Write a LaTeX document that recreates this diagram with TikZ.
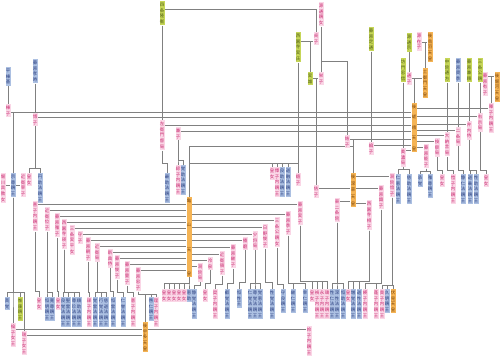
\documentclass[tikz,border=0pt]{standalone}
\usepackage{fontspec}
\newfontfamily\cjk{Noto Sans CJK JP}
\definecolor{empfill}{RGB}{245,180,85}
\definecolor{emptext}{RGB}{125,70,10}
\definecolor{manfill}{RGB}{172,192,226}
\definecolor{mantext}{RGB}{40,60,125}
\definecolor{womfill}{RGB}{250,214,230}
\definecolor{womtext}{RGB}{200,40,110}
\definecolor{othfill}{RGB}{198,214,88}
\definecolor{othtext}{RGB}{80,95,20}
\definecolor{linegray}{RGB}{128,128,128}
\pgfdeclarelayer{bg}
\pgfsetlayers{bg,main}

\newcommand\cjkstrut{\vrule height 4.6pt depth 1.3pt width 0pt}
\newcommand\onechar[1]{\hbox to 4.4pt{\hss\cjkstrut#1\hss}}
\ExplSyntaxOn
\NewDocumentCommand\vt{O{0pt}m}
 {
  \tl_set:Nx \l_tmpb_tl {#2}
  \vbox
   {
    \offinterlineskip
    \bool_set_true:N \l_tmpa_bool
    \tl_map_inline:Nn \l_tmpb_tl
     {
      \bool_if:NF \l_tmpa_bool { \kern #1 }
      \bool_set_false:N \l_tmpa_bool
      \onechar{##1}
     }
   }
 }
\ExplSyntaxOff

% couple line, child hanging from a line, children under a parent
\newcommand\marry[3]{\draw[link] (#1.east |- 0,#3) -- (#2.west |- 0,#3);}
\newcommand\hangkid[2]{\draw[link] (#1.north |- 0,#2) -- (#1.north);}
\newcommand\brood[3]{\foreach \k in {#3}{\draw[link] (#1.south) -- (#1.south |- 0,#2) -| (\k.north);}}

\tikzset{
  person/.style={anchor=north, inner sep=0.3pt, font=\cjk\fontsize{4.4}{5.9}\selectfont},
  emp/.style={person, fill=empfill, text=emptext},
  man/.style={person, fill=manfill, text=mantext},
  wom/.style={person, fill=womfill, text=womtext},
  oth/.style={person, fill=othfill, text=othtext},
  link/.style={draw=linegray, line width=0.75pt}
}

\begin{document}
\begin{tikzpicture}[x=1pt,y=-1pt]
\useasboundingbox (0,0) rectangle (500,359);

% ancestors
\node[oth] (takahira) at (162,1) {\vt{四条隆衡}};
\node[wom] (sadako) at (321,2) {\vt{源通親女}};
\node[oth] (saneuji) at (298,32) {\vt{西園寺実氏}};
\node[wom] (teishi) at (316,32) {\vt{貞子}};
\node[oth] (saneo) at (310,72) {\vt{実雄}};
\node[wom] (eishi) at (321,72) {\vt{栄子}};
\node[oth] (sadamichi) at (371,27) {\vt{藤原定通}};
\node[oth] (tadanobu) at (403,58) {\vt{坊門忠信}};
\node[oth] (michimune) at (409,33) {\vt{源通宗}};
\node[wom] (zaishi) at (419,32) {\vt{源在子}};
\node[emp] (gotoba) at (430,32) {\vt{後鳥羽天皇}};
\node[wom] (tsushi) at (409,72) {\vt{通子}};
\node[emp] (tsuchimikado) at (425,68) {\vt{土御門天皇}};
\node[oth] (michikata) at (447,58) {\vt{中院通方}};
\node[man] (sukesue) at (458,58) {\vt{藤原資季}};
\node[oth] (kanenori) at (469,58) {\vt{藤原兼頼}};
\node[oth] (kinchika) at (480,58) {\vt{三条公親}};
\node[wom] (yushi) at (485,72) {\vt{藤原有子}};
\node[emp] (gohorikawa) at (497,72) {\vt{後堀河天皇}};
\node[man] (munemoto) at (8,67) {\vt{平棟基}};
\node[man] (takatoki) at (35,59) {\vt{藤原孝時}};

% Go-Saga and his consorts
\node[emp] (gosaga) at (414,103) {\vt[4.6pt]{後嵯峨天皇}};
\node[wom] (muneko) at (8,104) {\vt{棟子}};
\node[wom] (hiroko) at (35,113) {\vt{博子}};
\node[wom] (saemon) at (162,120) {\vt{左衛門督局}};
\node[wom] (kenshi) at (178,127) {\vt{兼子}};
\node[wom] (kisshi) at (347,135) {\vt{姞子}};
\node[wom] (rinko) at (371,142) {\vt{綸子}};
\node[wom] (mino) at (403,148) {\vt{美濃局}};
\node[wom] (yoshiko) at (426,144) {\vt{藤原能子}};
\node[wom] (azechi) at (437,138) {\vt{按察局}};
\node[wom] (dainagon) at (447,132) {\vt{大納言局}};
\node[wom] (nijo) at (458,127) {\vt{二条局}};
\node[wom] (bennaishi) at (469,121) {\vt{弁内侍}};
\node[wom] (ukyo) at (480,113) {\vt{右京局}};
\node[wom] (kishi) at (491,103) {\vt{暉子内親王}};

% children of Go-Saga
\node[wom] (horikawa) at (3,173) {\vt{堀川具教女}};
\node[man] (munetaka) at (13,173) {\vt{宗尊親王}};
\node[wom] (saiko) at (23,173) {\vt{近衛宰子}};
\node[wom] (c29) at (29,173) {\vt{皇女}};
\node[man] (c40) at (40,173) {\vt{円助法親王}};
\node[man] (c167) at (167,173) {\vt{最助法親王}};
\node[wom] (c178) at (178,165) {\vt{綜子内親王}};
\node[man] (c183) at (183,165) {\vt{覚助法親王}};
\node[emp] (kameyama) at (189,197) {\vt[18.6pt]{亀山天皇}};
\node[emp] (gofukakusa) at (353,173) {\vt[1pt]{後深草天皇}};
\node[wom] (kiko) at (298,173) {\vt{嬉子}};
\node[wom] (kyoko) at (316,185) {\vt{佶子}};
\foreach \n/\x/\s/\t in {h272/272/wom/皇女, h277/277/wom/懌子内親王,
    h282/282/man/良助法親王, h288/288/man/道融法親王}
  {\node[\s] (\n) at (\x,167) {\vt{\t}};}
\foreach \n/\x/\s/\t in {c398/398/man/仁恵法親王, c409/409/man/慈助法親王,
    c420/420/man/承覚, c430/430/man/雅尊親王, c442/442/wom/皇女,
    c453/453/wom/愷子内親王, c463/463/man/静仁法親王, c470/470/man/道乗法親王,
    c476/476/man/性助法親王, c486/486/wom/皇女}
  {\node[\s] (\n) at (\x,174) {\vt{\t}};}

% consorts of Go-Fukakusa
\node[wom] (kimiko) at (337,198) {\vt{東二条院}};
\node[wom] (aiko) at (369,200) {\vt{西園寺相子}};
\node[wom] (shikishi) at (381,185) {\vt{藤原識子}};
\node[wom] (inshi) at (392,173) {\vt{洞院愔子}};

% consorts of Kameyama
\foreach \n/\x/\y/\t in {kw1/35/201/喜子内親王, kw2/47/207/近衛位子,
    kw3/57/213/藤原雅子, kw4/64/219/西園寺瑛子, kw5/72/225/三条実平女,
    kw6/80/231/守子, kw7/88/237/藤原朝子, kw8/97/243/近衛局,
    kw9/110/249/新典侍, kw10/117/255/藤原俊子, kw11/127/261/藤原量子,
    kw12/138/267/藤原忠子,
    ke1/300/201/藤原実子, ke2/288/211/藤原季子, ke3/277/217/三条公親女,
    ke4/265/224/日野俊子, ke5/255/231/少将局, ke6/245/237/播磨,
    ke7/233/244/藤原継子, ke8/222/251/近衛領子, ke9/210/257/冷泉,
    ke10/200/263/洞院局}
  {\node[wom] (\n) at (\x,\y) {\vt{\t}};}

% grandchildren
\foreach \n/\x/\s/\t in {c7/7/man/真覚, c20/20/oth/惟康親王, c39/39/wom/皇女,
    c47/47/man/恒明親王, c52/52/man/寛尊親王, c58/58/wom/皇女,
    c63/63/man/良覚法親王, c68/68/man/聖雲法親王, c74/74/man/尊珍法親王,
    c79/79/man/順助法親王, c89/89/wom/禖子内親王, c95/95/man/覚雲法親王,
    c101/101/man/行覚法親王, c106/106/man/慈道法親王, c113/113/man/恒雲法親王,
    c123/123/man/仁誉法親王, c133/133/wom/憙子内親王, c151/151/man/啓仁親王,
    c156/156/wom/理子内親王}
  {\node[\s] (\n) at (\x,297) {\vt{\t}};}
\foreach \n/\x/\s/\t in {c164/164/wom/皇女, c169/169/wom/皇女, c174/174/wom/皇女,
    c179/179/wom/皇女, c184/184/wom/皇女, c189/189/man/恵助,
    c194/194/man/静覚法親王, c205/205/wom/皇女, c215/215/wom/奨子内親王,
    c227/227/man/叡覚法親王, c239/239/man/恒性王, c250/250/man/仁覚法親王,
    c255/255/man/尊覚法親王, c260/260/man/覚恵法親王, c272/272/man/性覚法親王,
    c283/283/man/守良親王, c293/293/man/継仁親王, c305/305/man/幸仁親王,
    c312/312/wom/皇女, c317/317/wom/禎子内親王, c322/322/wom/永子内親王,
    c327/327/wom/璹子内親王, c332/332/man/性仁法親王, c337/337/man/深性法親王,
    c343/343/man/恒助法親王, c348/348/wom/皇女, c353/353/man/増覚法親王,
    c359/359/man/道性法親王, c365/365/wom/媖子内親王, c376/376/wom/蓬子内親王,
    c382/382/wom/貴子内親王, c387/387/man/久明親王, fushimi/393/emp/伏見天皇}
  {\node[\s] (\n) at (\x,289) {\vt{\t}};}
\node[wom] (rinshi) at (13,323) {\vt{掄子女王}};
\node[wom] (zuishi) at (24,331) {\vt{瑞子女王}};
\node[emp] (gouda) at (145,322) {\vt{後宇多天皇}};
\node[wom] (reishi) at (309,326) {\vt{姈子内親王}};

\begin{pgfonlayer}{bg}
% ancestors
\draw[link] (takahira.east |- 0,9) -| (teishi.north);
\draw[link] (takahira.south) -- (saemon.north);
\marry{saneuji}{teishi}{41}
\hangkid{saneo}{41}
\draw[link] (sadako.south) -- (eishi.north);
\draw[link] (sadako.south |- 0,61) -| (kisshi.north);
\marry{saneo}{eishi}{78}
\hangkid{kyoko}{78}
\draw[link] (saneuji.south) -- (kiko.north);
\draw[link] (sadamichi.south) -- (rinko.north);
\draw[link] (tadanobu.south) -- (mino.north);
\draw[link] (michimune.south) -- (tsushi.north);
\marry{zaishi}{gotoba}{42}
\hangkid{tsuchimikado}{42}
\marry{tsushi}{tsuchimikado}{78}
\hangkid{gosaga}{78}
\draw[link] (michikata.south) -- (dainagon.north);
\draw[link] (sukesue.south) -- (nijo.north);
\draw[link] (kanenori.south) -- (bennaishi.north);
\draw[link] (kinchika.south) -- (ukyo.north);
\marry{yushi}{gohorikawa}{76}
\hangkid{kishi}{76}
\draw[link] (munemoto.south) -- (muneko.north);
\draw[link] (takatoki.south) -- (hiroko.north);

% Go-Saga
\marry{muneko}{gosaga}{112}
\marry{hiroko}{gosaga}{117}
\marry{saemon}{gosaga}{125}
\marry{kenshi}{gosaga}{131}
\marry{kisshi}{gosaga}{139}
\marry{rinko}{gosaga}{145}
\marry{mino}{gosaga}{150}
\marry{gosaga}{kishi}{108}
\marry{gosaga}{ukyo}{116}
\marry{gosaga}{bennaishi}{124}
\marry{gosaga}{nijo}{130}
\marry{gosaga}{dainagon}{135}
\marry{gosaga}{azechi}{141}
\marry{gosaga}{yoshiko}{147}
\hangkid{munetaka}{112}
\brood{hiroko}{168}{c29,c40}
\brood{saemon}{163}{c167}
\brood{kenshi}{160}{c178,c183}
\hangkid{gofukakusa}{139}
\draw[link] (gofukakusa.north |- 0,146) -| (kameyama.north);
\brood{mino}{169}{c398,c409}
\brood{yoshiko}{171}{c420,c430}
\brood{azechi}{170}{c442}
\brood{dainagon}{170}{c453}
\brood{nijo}{170}{c463}
\brood{bennaishi}{170}{c470,c476}
\brood{ukyo}{170}{c486}

% Munetaka
\marry{horikawa}{munetaka}{185}
\marry{munetaka}{saiko}{185}
\brood{munetaka}{292}{c7,c20,rinshi,zuishi}

% Kameyama
\draw[link] (kameyama.north |- 0,163) -- (kiko.north |- 0,163);
\foreach \c in {h272,h277,h282,h288} {\hangkid{\c}{163}}
\foreach \n/\y in {kw1/204, kw2/210, kw3/216, kw4/222, kw5/228, kw6/234,
    kw7/240, kw8/246, kw9/252, kw10/258, kw11/264, kw12/270}
  {\marry{\n}{kameyama}{\y}}
\foreach \n/\y in {ke1/204, ke2/214, ke3/220, ke4/227, ke5/234, ke6/240,
    ke7/247, ke8/254, ke9/260, ke10/266}
  {\marry{kameyama}{\n}{\y}}
\brood{kw1}{291}{c39}
\brood{kw2}{292}{c47,c52}
\brood{kw3}{291}{c58}
\brood{kw4}{292}{c63,c68,c74,c79}
\brood{kw7}{292}{c89}
\brood{kw8}{292}{c95,c101,c106}
\brood{kw9}{291}{c113}
\brood{kw10}{292}{c123}
\brood{kw11}{292}{c133}
\brood{kw12}{294.5}{gouda,c151,c156}
\brood{kameyama}{283}{c164,c169,c174,c179,c184,c189}
\brood{ke10}{285}{c194}
\brood{ke9}{283}{c205}
\brood{ke8}{284}{c215}
\brood{ke7}{283}{c227}
\brood{ke6}{282}{c239}
\brood{ke5}{283}{c250,c255,c260}
\brood{ke4}{282}{c272}
\brood{ke3}{284}{c283}
\brood{ke2}{283}{c293,c305}
\brood{ke1}{281}{c312,c317,c322,c327}

% Go-Fukakusa
\marry{kyoko}{gofukakusa}{188}
\marry{kimiko}{gofukakusa}{201}
\marry{gofukakusa}{inshi}{176}
\marry{gofukakusa}{shikishi}{188}
\marry{gofukakusa}{aiko}{203}
\brood{kimiko}{283}{c332,c337,c343}
\brood{aiko}{281}{c348,c353,c359}
\brood{shikishi}{283}{c365,c376}
\brood{inshi}{285}{c382,c387,fushimi}

% Go-Uda
\marry{rinshi}{gouda}{329}
\marry{zuishi}{gouda}{335}
\marry{gouda}{reishi}{329}
\end{pgfonlayer}
\end{tikzpicture}
\end{document}
